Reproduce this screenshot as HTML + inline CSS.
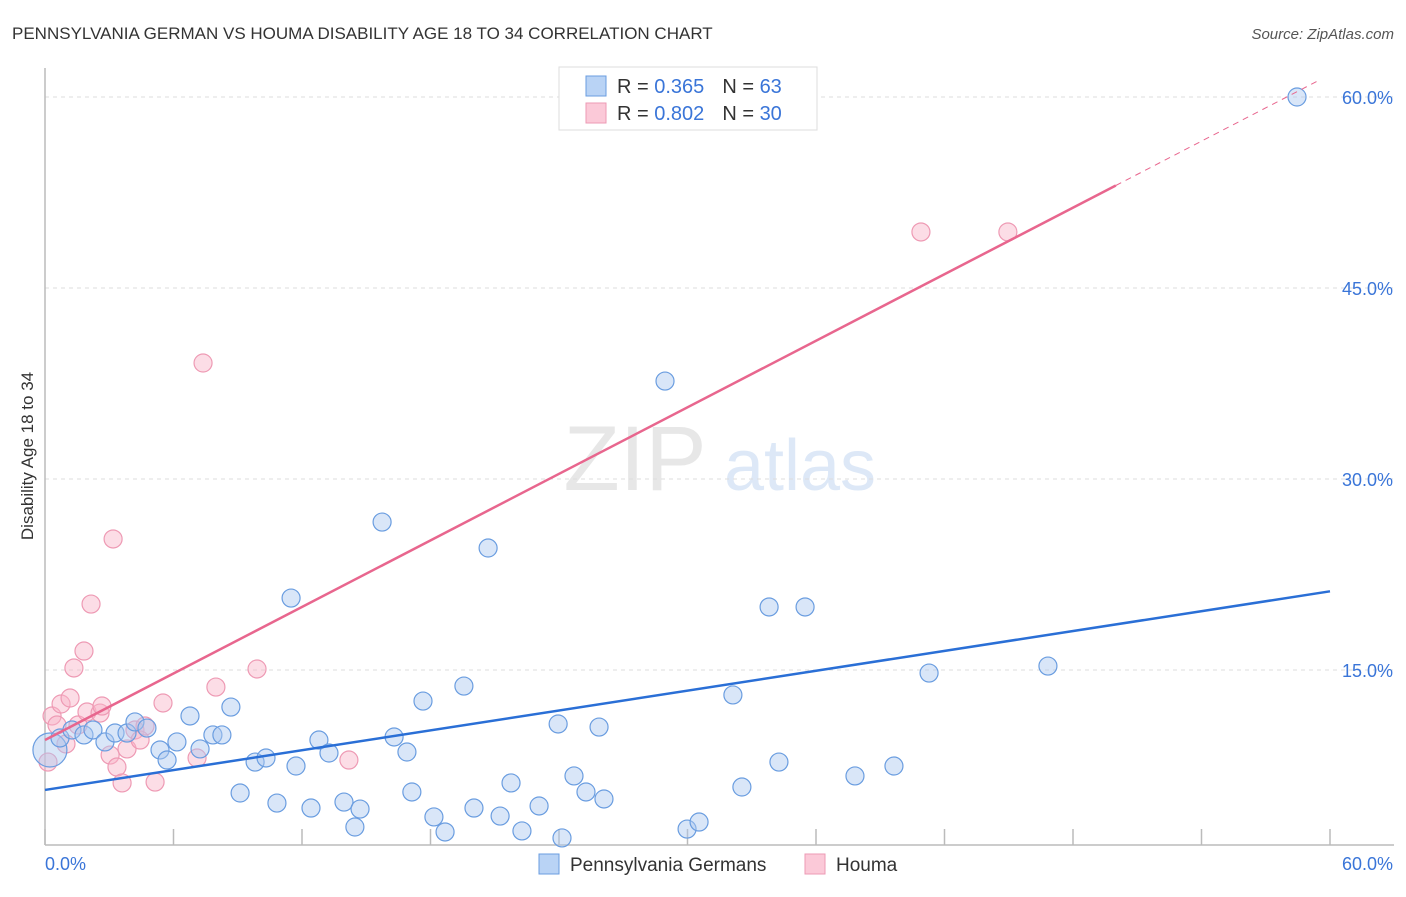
<!DOCTYPE html>
<html><head><meta charset="utf-8"><style>
body{margin:0;background:#fff;font-family:"Liberation Sans",sans-serif;}
svg text{font-family:"Liberation Sans",sans-serif;}
</style></head><body>
<svg id="chart" width="1406" height="892" xmlns="http://www.w3.org/2000/svg">
<text x="12" y="39" font-size="17" fill="#333">PENNSYLVANIA GERMAN VS HOUMA DISABILITY AGE 18 TO 34 CORRELATION CHART</text>
<text x="1394" y="39" font-size="15" fill="#555" text-anchor="end" font-style="italic">Source: ZipAtlas.com</text>
<text x="33" y="456" font-size="17" fill="#333" text-anchor="middle" transform="rotate(-90 33 456)">Disability Age 18 to 34</text>
<g><text x="635" y="490" font-size="92" fill="#ddd" text-anchor="middle" font-family="Liberation Serif,serif" opacity="0.7">ZIP</text><text x="800" y="490" font-size="72" fill="#c8daf2" text-anchor="middle" opacity="0.6">atlas</text></g>
<g id="grid"></g><g id="axes"></g><g id="marks"></g>
<g>
<rect x="559" y="67" width="258" height="63" fill="#fff" stroke="#ddd"/>
<rect x="586" y="76" width="20" height="20" fill="#b9d3f5" stroke="#6a9de0"/>
<rect x="586" y="103" width="20" height="20" fill="#fbc9d8" stroke="#ec9ab4"/>
<text x="617" y="93" font-size="20" fill="#333">R = <tspan fill="#3a75d8">0.365</tspan><tspan dx="18">N = </tspan><tspan fill="#3a75d8">63</tspan></text>
<text x="617" y="120" font-size="20" fill="#333">R = <tspan fill="#3a75d8">0.802</tspan><tspan dx="18">N = </tspan><tspan fill="#3a75d8">30</tspan></text>
</g>
<g>
<rect x="539" y="854" width="20" height="20" fill="#b9d3f5" stroke="#6a9de0"/>
<text x="570" y="871" font-size="19" fill="#333">Pennsylvania Germans</text>
<rect x="805" y="854" width="20" height="20" fill="#fbc9d8" stroke="#ec9ab4"/>
<text x="836" y="871" font-size="19" fill="#333">Houma</text>
</g>
</svg>
<script>
const blueX=[0.23,0.70,1.26,1.82,2.24,2.80,3.27,3.83,4.20,4.76,5.37,5.70,6.16,6.77,7.24,7.84,8.26,8.68,9.11,9.81,10.32,10.83,11.49,11.72,12.42,12.79,13.26,13.96,14.47,14.71,15.74,16.30,16.90,17.13,17.65,18.16,18.68,19.56,20.03,20.69,21.25,21.76,22.27,23.07,23.96,24.14,24.70,25.26,25.87,26.10,28.95,29.98,30.54,32.12,32.54,33.81,34.27,35.49,37.82,39.64,41.28,46.83,58.46];
const blueY=[8.72,9.66,10.29,9.90,10.29,9.35,10.05,10.05,10.92,10.44,8.72,7.93,9.35,11.39,8.80,9.90,9.90,12.09,5.34,7.77,8.09,4.55,20.65,7.46,4.16,9.50,8.48,4.63,2.67,4.08,26.62,9.74,8.56,5.42,12.56,3.46,2.28,13.74,4.16,24.58,3.53,6.13,2.36,4.32,10.76,1.81,6.68,5.42,10.52,4.87,37.69,2.51,3.06,13.04,5.81,19.95,7.77,19.95,6.68,7.46,14.76,15.31,60.0];
const pinkX=[0.14,0.33,0.56,0.75,0.98,1.17,1.35,1.54,1.82,1.96,2.15,2.57,2.66,3.04,3.18,3.36,3.60,3.83,4.20,4.44,4.67,5.14,5.51,7.10,7.38,7.98,9.90,14.19,40.90,44.96];
const pinkY=[7.77,11.39,10.68,12.33,9.19,12.80,15.16,10.68,16.49,11.70,20.18,11.62,12.17,8.32,25.29,7.38,6.13,8.80,10.29,9.50,10.60,6.20,12.41,8.09,39.11,13.66,15.08,7.93,49.40,49.40];
const blueTrend=[5.58,0.26];   // intercept, slope
const pinkTrend=[9.5,0.871];
const yTicks=[15,30,45,60];
const yTickLabels=["15.0%","30.0%","45.0%","60.0%"];
const xTicks=[0,6,12,18,24,30,36,42,48,54,60];
const NS="http://www.w3.org/2000/svg";
const X=v=>45+v/60*1285, Y=v=>861-v/15*191;
function mk(t,a,p){const e=document.createElementNS(NS,t);for(const k in a)e.setAttribute(k,a[k]);document.getElementById(p).appendChild(e);return e;}
yTicks.forEach((t,i)=>{
 const g=mk('line',{x1:45,x2:1394,y1:Y(t),y2:Y(t),stroke:'#ddd','stroke-dasharray':'4,4'},'grid');
 
 
 const l=mk('text',{x:1393,y:Y(t)+7,'font-size':18,fill:'#3a75d8','text-anchor':'end'},'grid');l.textContent=yTickLabels[i];
 
 
});
const ax=mk('line',{x1:45,x2:45,y1:68,y2:845,stroke:'#bbb','stroke-width':1.5},'axes');


const bx=mk('line',{x1:45,x2:1394,y1:845,y2:845,stroke:'#bbb','stroke-width':1.5},'axes');


xTicks.forEach(t=>{const e=mk('line',{x1:X(t),x2:X(t),y1:829,y2:845,stroke:'#bbb','stroke-width':1.5},'axes');
 
 });
const x0=mk('text',{x:45,y:870,'font-size':18,fill:'#3a75d8'},'axes');x0.textContent='0.0%';


const x1=mk('text',{x:1393,y:870,'font-size':18,fill:'#3a75d8','text-anchor':'end'},'axes');x1.textContent='60.0%';


pinkX.forEach((v,i)=>{const c=mk('circle',{cx:X(v),cy:Y(pinkY[i]),r:9,fill:'rgba(248,180,200,0.45)',stroke:'#ee9ab4','stroke-width':1.2},'marks');
 
 });
blueX.forEach((v,i)=>{const c=mk('circle',{cx:X(v),cy:Y(blueY[i]),r:i==0?17:9,fill:'rgba(170,200,240,0.45)',stroke:'#6a9de0','stroke-width':1.2},'marks');
 
 });
const bl=mk('line',{x1:X(0),y1:Y(blueTrend[0]),x2:X(60),y2:Y(blueTrend[0]+60*blueTrend[1]),stroke:'#2a6fd6','stroke-width':2.5},'marks');


const pl=mk('line',{x1:X(0),y1:Y(pinkTrend[0]),x2:X(50),y2:Y(pinkTrend[0]+50*pinkTrend[1]),stroke:'#e8668e','stroke-width':2.5},'marks');


const pd=mk('line',{x1:X(50),y1:Y(pinkTrend[0]+50*pinkTrend[1]),x2:X(59.5),y2:Y(pinkTrend[0]+59.5*pinkTrend[1]),stroke:'#e8668e','stroke-width':1,'stroke-dasharray':'6,5'},'marks');


</script>
</body></html>
